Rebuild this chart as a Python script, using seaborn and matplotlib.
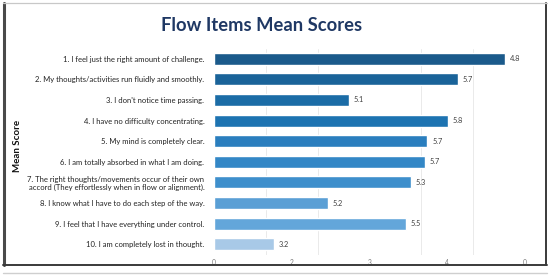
import seaborn as sns
import matplotlib.pyplot as plt
import pandas as pd
from matplotlib.lines import Line2D
from matplotlib.ticker import FixedLocator

# item texts, as shown on the y axis
items = [
    "1. I feel just the right amount of challenge.",
    "2. My thoughts/activities run fluidly and smoothly.",
    "3. I don't notice time passing.",
    "4. I have no difficulty concentrating.",
    "5. My mind is completely clear.",
    "6. I am totally absorbed in what I am doing.",
    "7. The right thoughts/movements occur of their own\naccord (They effortlessly when in flow or alignment).",
    "8. I know what I have to do each step of the way.",
    "9. I feel that I have everything under control.",
    "10. I am completely lost in thought.",
]
# bar lengths as drawn on the axis
bar_lengths = [7.49, 6.27, 3.46, 6.02, 5.49, 5.42, 5.07, 2.92, 4.93, 1.54]
# value labels printed next to the bars
value_labels = ["4.8", "5.7", "5.1", "5.8", "5.7", "5.7", "5.3", "5.2", "5.5", "3.2"]
bar_colors = ["#1b5a8b", "#1a6399", "#1b6ca6", "#1d73b1", "#2a7ebe", "#3387c6",
              "#3e8fcc", "#5a9fd5", "#63a6da", "#a8c9e7"]
x_tick_pos = [0, 2, 4, 6, 8]
x_tick_text = ["0", "2", "3", "4", "0"]

df = pd.DataFrame({"item": items, "score": bar_lengths})

sns.set_theme(style="white")
plt.rcParams["font.family"] = ["Lato", "DejaVu Sans"]

fig = plt.figure(figsize=(5.5, 2.79), dpi=100)
ax = fig.add_axes([214 / 550, 1 - 254.5 / 279, 311 / 550, 206 / 279])

sns.barplot(data=df, y="item", x="score", hue="item", palette=bar_colors,
            legend=False, width=0.58, orient="h", ax=ax, saturation=1)

for i, (v, t) in enumerate(zip(bar_lengths, value_labels)):
    ax.text(v + 0.12, i, t, va="center", ha="left", fontsize=5.3, color="#404040")

ax.set_xlim(0, 8)
ax.set_ylim(9.5, -0.5)
ax.set_xticks(x_tick_pos)
ax.set_xticklabels(x_tick_text, fontsize=4.8, color="#777777")
ax.xaxis.set_minor_locator(FixedLocator([0, 8 / 6, 16 / 6, 4, 32 / 6, 40 / 6, 8]))
ax.grid(True, which="minor", axis="x", color="#e6e6e6", linewidth=0.6)
ax.grid(False, which="major")
ax.tick_params(axis="x", length=0, pad=3)
ax.tick_params(axis="y", length=0, pad=7, labelsize=5.5, labelcolor="#222222")
for lbl in ax.get_yticklabels():
    lbl.set_multialignment("right")
ax.set_xlabel("")
ax.set_ylabel("")
for s in ax.spines.values():
    s.set_visible(False)

fig.text(0.475, 0.91, "Flow Items Mean Scores", ha="center", va="center",
         fontsize=13.2, fontweight="bold", color="#1f3864")
fig.text(18 / 550, 1 - 146 / 279, "Mean Score", rotation=90, ha="center", va="center",
         fontsize=7, fontweight="bold", color="#111111")

# frame around the picture
W, H = 550, 279
def fx(x):
    return x / W
def fy(y):
    return 1 - y / H
fig.add_artist(Line2D([fx(4), fx(4)], [fy(3), fy(265)], color="#4a4a4a", lw=2.2))
fig.add_artist(Line2D([fx(546), fx(546)], [fy(3), fy(265)], color="#3a3a3a", lw=1.4))
fig.add_artist(Line2D([fx(3), fx(547)], [fy(264.5), fy(264.5)], color="#3a3a3a", lw=1.4))
fig.add_artist(Line2D([fx(3), fx(547)], [fy(3), fy(3)], color="#c8c8c8", lw=0.9))
fig.add_artist(Line2D([fx(3), fx(547)], [fy(273), fy(273)], color="#cfcfcf", lw=1.0))

fig.savefig("out.png", dpi=100)
